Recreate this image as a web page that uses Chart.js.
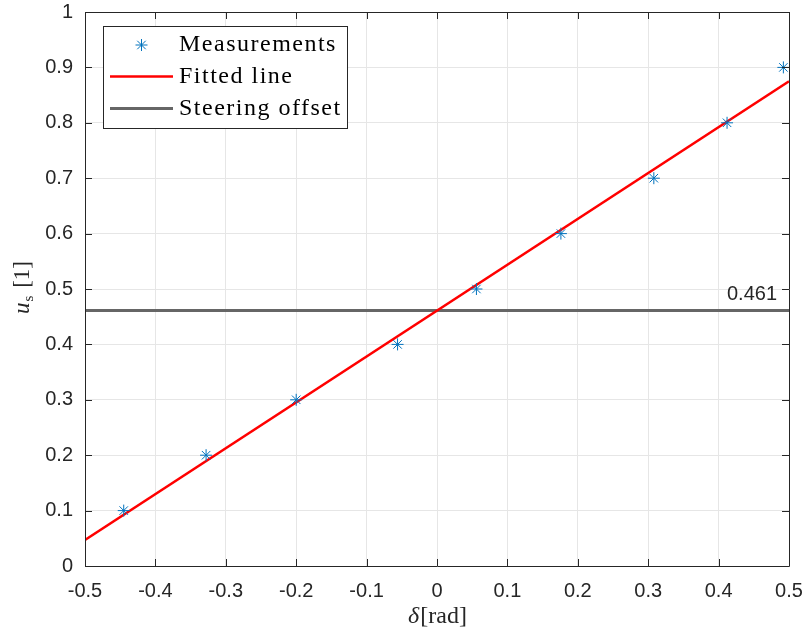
<!DOCTYPE html>
<html>
<head>
<meta charset="utf-8">
<script src="https://cdn.jsdelivr.net/npm/chart.js@4.4.0/dist/chart.umd.min.js"></script>
<style>
html, body { margin: 0; padding: 0; background: #fff; }
</style>
</head>
<body>
<canvas id="fitChart" width="806" height="637"></canvas>
<script>
// measured points
var measX = [-0.445, -0.328, -0.200, -0.056, 0.056, 0.176, 0.308, 0.412, 0.492],
	 measY = [0.1, 0.2, 0.3, 0.4, 0.5, 0.6, 0.7, 0.8, 0.9],
	 // fitted line end points
	 fitX = [-0.5, 0.5],
	 fitY = [0.047, 0.875],
	 offsetX = [-0.5, 0.5],
	 offsetY = [0.461, 0.461],
	 offsetText = "0.461",
	 seriesNames = ["Measurements", "Fitted line", "Steering offset"],
	 xTicks = [-0.5, -0.4, -0.3, -0.2, -0.1, 0, 0.1, 0.2, 0.3, 0.4, 0.5],
	 xTickLabels = ["-0.5", "-0.4", "-0.3", "-0.2", "-0.1", "0", "0.1", "0.2", "0.3", "0.4", "0.5"],
	 yTicks = [0, 0.1, 0.2, 0.3, 0.4, 0.5, 0.6, 0.7, 0.8, 0.9, 1],
	 yTickLabels = ["0", "0.1", "0.2", "0.3", "0.4", "0.5", "0.6", "0.7", "0.8", "0.9", "1"];

var blue = "#0072bd",
	 red = "#ff0000",
	 grey = "#666666",
	 axisColor = "#262626",
	 serif = "'Liberation Serif', 'DejaVu Serif', serif",
	 sans = "'Liberation Sans', Arial, sans-serif";

function toPoints(xs, ys) {
	var pts = [];
	for (var i = 0; i < xs.length; i++) {
		pts.push({x: xs[i], y: ys[i]});
	}
	return pts;
}

function drawStar(ctx, x, y, r) {
	ctx.save();
	ctx.strokeStyle = blue;
	ctx.lineWidth = 1;
	ctx.beginPath();
	ctx.moveTo(x - r, y); ctx.lineTo(x + r, y);
	ctx.moveTo(x, y - r); ctx.lineTo(x, y + r);
	var d = r * 0.7071;
	ctx.moveTo(x - d, y - d); ctx.lineTo(x + d, y + d);
	ctx.moveTo(x - d, y + d); ctx.lineTo(x + d, y - d);
	ctx.stroke();
	ctx.restore();
}

function noScalePadding(scale) {
	scale.paddingLeft = 0;
	scale.paddingRight = 0;
	scale.paddingTop = 0;
	scale.paddingBottom = 0;
}

var decorPlugin = {
	id: "decor",
	afterDraw: function(chart) {
		var ctx = chart.ctx,
			 area = chart.chartArea,
			 xs = chart.scales.x,
			 ys = chart.scales.y,
			 tick = 7;

		// box + inward ticks
		ctx.save();
		ctx.strokeStyle = axisColor;
		ctx.lineWidth = 1;
		ctx.beginPath();
		ctx.rect(Math.round(area.left) + 0.5, Math.round(area.top) + 0.5,
			Math.round(area.right - area.left), Math.round(area.bottom - area.top));
		for (var i = 0; i < xTicks.length; i++) {
			var px = Math.round(xs.getPixelForValue(xTicks[i])) + 0.5;
			ctx.moveTo(px, area.bottom); ctx.lineTo(px, area.bottom - tick);
			ctx.moveTo(px, area.top); ctx.lineTo(px, area.top + tick);
		}
		for (var j = 0; j < yTicks.length; j++) {
			var py = Math.round(ys.getPixelForValue(yTicks[j])) + 0.5;
			ctx.moveTo(area.left, py); ctx.lineTo(area.left + tick, py);
			ctx.moveTo(area.right, py); ctx.lineTo(area.right - tick, py);
		}
		ctx.stroke();
		ctx.restore();

		// offset value label
		ctx.save();
		ctx.font = "20px " + sans;
		ctx.fillStyle = axisColor;
		ctx.textAlign = "right";
		ctx.textBaseline = "alphabetic";
		ctx.fillText(offsetText, area.right - 12, ys.getPixelForValue(offsetY[0]) - 11);
		ctx.restore();

		// legend
		var lx = 103.5, ly = 26.5, lw = 244, lh = 102,
			 baselines = [51, 83, 115];
		ctx.save();
		ctx.fillStyle = "#ffffff";
		ctx.fillRect(lx, ly, lw, lh);
		ctx.strokeStyle = axisColor;
		ctx.lineWidth = 1;
		ctx.strokeRect(lx, ly, lw, lh);

		drawStar(ctx, 141.5, baselines[0] - 6, 6);
		ctx.lineWidth = 2.5;
		ctx.strokeStyle = red;
		ctx.beginPath();
		ctx.moveTo(110, baselines[1] - 6.5); ctx.lineTo(173, baselines[1] - 6.5);
		ctx.stroke();
		ctx.lineWidth = 3;
		ctx.strokeStyle = grey;
		ctx.beginPath();
		ctx.moveTo(110, baselines[2] - 6.5); ctx.lineTo(173, baselines[2] - 6.5);
		ctx.stroke();

		ctx.fillStyle = "#000000";
		ctx.font = "24px " + serif;
		if ("letterSpacing" in ctx) ctx.letterSpacing = "1.5px";
		ctx.textAlign = "left";
		for (var k = 0; k < seriesNames.length; k++) {
			ctx.fillText(seriesNames[k], 179, baselines[k]);
		}
		ctx.restore();

		// x axis title: delta [rad]
		ctx.save();
		ctx.fillStyle = axisColor;
		ctx.textBaseline = "alphabetic";
		ctx.font = "italic 24px " + serif;
		var w1 = ctx.measureText("δ").width;
		ctx.font = "24px " + serif;
		var w2 = ctx.measureText("[rad]").width;
		var cx = (area.left + area.right) / 2,
			 sx = cx - (w1 + w2) / 2;
		ctx.font = "italic 24px " + serif;
		ctx.fillText("δ", sx, 623);
		ctx.font = "24px " + serif;
		ctx.fillText("[rad]", sx + w1 + 1, 623);
		ctx.restore();

		// y axis title: u_s [1]
		ctx.save();
		ctx.translate(29, (area.top + area.bottom) / 2);
		ctx.rotate(-Math.PI / 2);
		ctx.fillStyle = axisColor;
		ctx.textBaseline = "alphabetic";
		ctx.font = "italic 23px " + serif;
		var a = ctx.measureText("u").width;
		ctx.font = "15px " + serif;
		var b = ctx.measureText("s").width;
		ctx.font = "23px " + serif;
		var c = ctx.measureText(" [1]").width;
		var start = -(a + b + c) / 2;
		ctx.font = "italic 23px " + serif;
		ctx.fillText("u", start, 0);
		ctx.font = "15px " + serif;
		ctx.fillText("s", start + a + 1, 4);
		ctx.font = "23px " + serif;
		ctx.fillText(" [1]", start + a + b + 3, 0);
		ctx.restore();
	}
};

var fitChart = new Chart(document.getElementById("fitChart").getContext("2d"), {
	type: "scatter",
	data: {
		datasets: [{
			label: seriesNames[0],
			data: toPoints(measX, measY),
			pointStyle: "star",
			pointRadius: 6,
			pointBorderWidth: 1,
			borderColor: blue,
			backgroundColor: blue,
			showLine: false,
			order: 0
		}, {
			label: seriesNames[1],
			data: toPoints(fitX, fitY),
			showLine: true,
			borderColor: red,
			borderWidth: 2.5,
			pointRadius: 0,
			order: 1
		}, {
			label: seriesNames[2],
			data: toPoints(offsetX, offsetY),
			showLine: true,
			borderColor: grey,
			borderWidth: 3,
			pointRadius: 0,
			order: 2
		}]
	},
	options: {
		responsive: false,
		animation: false,
		devicePixelRatio: 1,
		layout: {padding: {top: 12, right: 17, left: 0, bottom: 0}},
		plugins: {
			legend: {display: false},
			tooltip: {enabled: false}
		},
		scales: {
			x: {
				type: "linear",
				min: -0.5,
				max: 0.5,
				afterBuildTicks: function(scale) {
					scale.ticks = xTicks.map(function(v) { return {value: v}; });
				},
				afterFit: function(scale) {
					scale.height = 71;
					noScalePadding(scale);
				},
				ticks: {
					callback: function(v, i) { return xTickLabels[i]; },
					font: {family: sans, size: 20},
					color: axisColor,
					padding: 13,
					maxRotation: 0,
					autoSkip: false
				},
				grid: {color: "#e6e6e6", drawTicks: false},
				border: {display: false}
			},
			y: {
				type: "linear",
				min: 0,
				max: 1,
				afterBuildTicks: function(scale) {
					scale.ticks = yTicks.map(function(v) { return {value: v}; });
				},
				afterFit: function(scale) {
					scale.width = 85;
					noScalePadding(scale);
				},
				ticks: {
					callback: function(v, i) { return yTickLabels[i]; },
					font: {family: sans, size: 20},
					color: axisColor,
					padding: 12,
					autoSkip: false
				},
				grid: {color: "#e6e6e6", drawTicks: false},
				border: {display: false}
			}
		}
	},
	plugins: [decorPlugin]
});
</script>
</body>
</html>
